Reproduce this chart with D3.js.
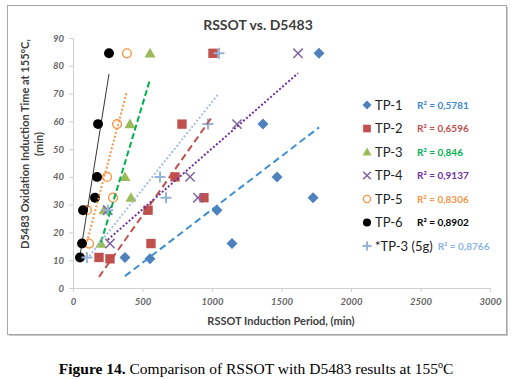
<!DOCTYPE html>
<html><head><meta charset="utf-8">
<script src="https://cdn.jsdelivr.net/npm/d3@7"></script>
<style>body{margin:0;background:#fff}svg{display:block}</style>
</head><body>
<svg id="c" width="518" height="379"></svg>
<script>
const seriesNames = ["TP-1","TP-2","TP-3","TP-4","TP-5","TP-6","*TP-3 (5g)"];
const r2Labels = ["R² = 0,5781","R² = 0,6596","R² = 0,846","R² = 0,9137","R² = 0,8306","R² = 0,8902","R² = 0,8766"];
const tp1X = [1770,1367,1468,1727,1036,1144,374,554];
const tp1Y = [84.5,59,40,32.5,28,16,11,10.5];
const tp2X = [1007,784,734,942,540,561,187,266];
const tp2Y = [84.5,59,40,32.5,28,16,11,10.5];
const tp3X = [554,410,374,417,223,201];
const tp3Y = [84.5,59,40,32.5,28,16];
const tp4X = [1619,1180,842,899,250,266];
const tp4Y = [84.5,59,40,32.5,28,16];
const tp5X = [388,317,245,288,100,115];
const tp5Y = [84.5,59,40,32.5,28,16];
const tp6X = [259,180,173,158,72,65,50];
const tp6Y = [84.5,59,40,32.5,28,16,11];
const tp35X = [1050,971,626,669,250,100];
const tp35Y = [84.5,59,40,32.5,28,11];
const xTicks = [0,500,1000,1500,2000,2500,3000];
const yTicks = [0,10,20,30,40,50,60,70,80,90];

const markerColors = ["#4F81BD","#C0504D","#9BBB59","#8064A2","#F79646","#000000","#95B3D7"];
const lineColors = ["#3F8FD2","#C0504D","#00B050","#7030A0","#F79646","#000000","#A6BFE0"];
const r2Colors = ["#3E86CF","#C0504D","#00B050","#7030A0","#F79646","#000000","#8DB4E2"];
const shapes = ["diamond","square","triangle","x","ocircle","circle","plus"];
const dashes = ["7,4","7,4","6,3","2,2","2,2",null,"2,2"];
const widths = [2,2,2,2,2,0.8,2];

const data = [[tp1X,tp1Y],[tp2X,tp2Y],[tp3X,tp3Y],[tp4X,tp4Y],[tp5X,tp5Y],[tp6X,tp6Y],[tp35X,tp35Y]];

const svg = d3.select("#c");
const font = "Lato, 'Open Sans', sans-serif";

// frame with shadow
svg.append("rect").attr("x",9).attr("y",7).attr("width",499).attr("height",329).attr("fill","#C8C8C8");
svg.append("rect").attr("x",7.5).attr("y",5.5).attr("width",499).attr("height",329)
  .attr("fill","#fff").attr("stroke","#A6A6A6").attr("stroke-width",1);

const x = d3.scaleLinear().domain([0,3000]).range([73,490]);
const y = d3.scaleLinear().domain([0,90]).range([288,38]);

// axes
const xa = svg.append("g").attr("transform","translate(0,288)")
  .call(d3.axisBottom(x).tickValues(xTicks).tickSize(4).tickPadding(6).tickFormat(d3.format("d")));
const ya = svg.append("g").attr("transform","translate(73,0)")
  .call(d3.axisLeft(y).tickValues(yTicks).tickSize(4).tickPadding(5));
[xa,ya].forEach(a=>{
  a.selectAll("path,line").attr("stroke","#D0D0D0");
  a.selectAll("text").attr("font-family",font).attr("font-size",9.5)
    .attr("font-style","italic").attr("font-weight","bold").attr("fill","#666");
});

// title
svg.append("text").attr("x",258).attr("y",30).attr("text-anchor","middle")
  .attr("font-family",font).attr("font-weight","bold").attr("font-size",14).attr("fill","#404040")
  .text("RSSOT vs. D5483");

// axis titles
svg.append("text").attr("x",281).attr("y",325).attr("text-anchor","middle")
  .attr("font-family",font).attr("font-weight","bold").attr("font-size",11).attr("fill","#404040")
  .text("RSSOT Induction Period, (min)");
const yt = svg.append("text").attr("transform","translate(29,144) rotate(-90)")
  .attr("text-anchor","middle").attr("font-family",font).attr("font-weight","bold")
  .attr("font-size",11).attr("fill","#404040");
yt.append("tspan").attr("x",0).attr("dy",0).text("D5483 Oxidation Induction Time at 155°C,");
yt.append("tspan").attr("x",0).attr("dy",14).text("(min)");

function drawMarker(g, shape, cx, cy, col, s){
  if(shape==="diamond"){
    g.append("path").attr("d",`M${cx},${cy-s}L${cx+s},${cy}L${cx},${cy+s}L${cx-s},${cy}Z`).attr("fill",col);
  } else if(shape==="square"){
    g.append("rect").attr("x",cx-s*0.85).attr("y",cy-s*0.85).attr("width",s*1.7).attr("height",s*1.7).attr("fill",col);
  } else if(shape==="triangle"){
    g.append("path").attr("d",`M${cx},${cy-s}L${cx+s},${cy+s*0.75}L${cx-s},${cy+s*0.75}Z`).attr("fill",col);
  } else if(shape==="x"){
    const k=s*0.85;
    g.append("path").attr("d",`M${cx-k},${cy-k}L${cx+k},${cy+k}M${cx-k},${cy+k}L${cx+k},${cy-k}`)
      .attr("stroke",col).attr("stroke-width",1.5).attr("fill","none");
  } else if(shape==="ocircle"){
    g.append("circle").attr("cx",cx).attr("cy",cy).attr("r",s*0.8).attr("fill","#fff")
      .attr("stroke",col).attr("stroke-width",1.4);
  } else if(shape==="circle"){
    g.append("circle").attr("cx",cx).attr("cy",cy).attr("r",s*0.9).attr("fill",col);
  } else if(shape==="plus"){
    g.append("path").attr("d",`M${cx-s},${cy}L${cx+s},${cy}M${cx},${cy-s}L${cx},${cy+s}`)
      .attr("stroke",col).attr("stroke-width",2).attr("fill","none");
  }
}

const markerG = svg.append("g");
data.forEach((d,i)=>{
  d[0].forEach((xv,j)=>drawMarker(markerG, shapes[i], x(xv), y(d[1][j]), markerColors[i], 5.5));
});

// trendlines (least squares)
const lineG = svg.append("g");
data.forEach((d,i)=>{
  const xs=d[0], ys=d[1];
  const mx=d3.mean(xs), my=d3.mean(ys);
  let sxy=0,sxx=0;
  xs.forEach((xv,j)=>{sxy+=(xv-mx)*(ys[j]-my);sxx+=(xv-mx)**2;});
  const b=sxy/sxx, a=my-b*mx;
  const x0=d3.min(xs), x1=d3.max(xs);
  lineG.append("line").attr("x1",x(x0)).attr("y1",y(a+b*x0)).attr("x2",x(x1)).attr("y2",y(a+b*x1))
    .attr("stroke",lineColors[i]).attr("stroke-width",widths[i])
    .attr("stroke-dasharray",dashes[i]);
});

// legend
const legG = svg.append("g");
seriesNames.forEach((nm,i)=>{
  const ly = 105 + i*23.5;
  drawMarker(legG, shapes[i], 367, ly, markerColors[i], 4.5);
  const t = legG.append("text").attr("x",375).attr("y",ly+4.5).attr("font-family",font)
    .attr("font-size",13).attr("fill","#222").text(nm);
  const end = 375 + t.node().getComputedTextLength();
  legG.append("text").attr("x",Math.max(417,end+5)).attr("y",ly+3.5).attr("font-family",font)
    .attr("font-weight","bold").attr("font-size",10).attr("fill",r2Colors[i]).text(r2Labels[i]);
});

// caption
const cap = svg.append("text").attr("x",256).attr("y",374).attr("text-anchor","middle")
  .attr("font-family","'Liberation Serif','Times New Roman',serif").attr("font-size",15.5).attr("fill","#000");
cap.append("tspan").attr("font-weight","bold").text("Figure 14.");
cap.append("tspan").text(" Comparison of RSSOT with D5483 results at 155");
cap.append("tspan").attr("font-size",10).attr("dy",-6).text("o");
cap.append("tspan").attr("dy",6).text("C");
</script>
</body></html>
